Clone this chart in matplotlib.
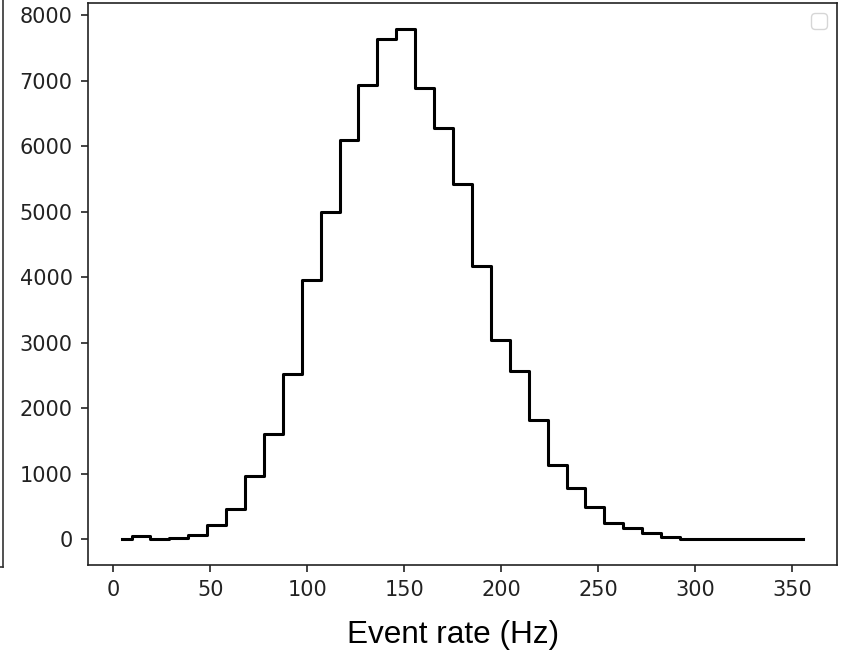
import matplotlib.pyplot as plt
from matplotlib.lines import Line2D

plt.rcParams['font.family'] = 'DejaVu Sans'

# Histogram of event rates (bin centres in Hz, counts)
rate_centres = [4.5, 14.25, 24.0, 33.75, 43.5, 53.25, 63.0, 72.75, 82.5, 92.25,
                102.0, 111.75, 121.5, 131.25, 141.0, 150.75, 160.5, 170.25, 180.0,
                189.75, 199.5, 209.25, 219.0, 228.75, 238.5, 248.25, 258.0, 267.75,
                277.5, 287.25, 297.0, 306.75, 316.5, 326.25, 336.0, 345.75, 355.5]
counts = [0, 46, 0, 26, 61, 220, 466, 962, 1610, 2521,
          3963, 5000, 6100, 6933, 7633, 7797, 6893, 6279, 5425,
          4167, 3043, 2572, 1821, 1141, 782, 491, 256, 179,
          103, 37, 8, 6, 2, 1, 0, 0, 0]

x_ticks = [0, 50, 100, 150, 200, 250, 300, 350]
y_ticks = [0, 1000, 2000, 3000, 4000, 5000, 6000, 7000, 8000]

W, H = 841, 651
fig = plt.figure(figsize=(W / 100, H / 100), dpi=100)
ax = fig.add_axes([88 / W, 1 - 565 / H, 749 / W, 562 / H])

ax.step(rate_centres, counts, where='mid', color='black', lw=2.2)

ax.set_xticks(x_ticks)
ax.set_yticks(y_ticks)
ax.tick_params(labelsize=15, length=5, width=1.2, pad=6, colors='#222222')
for s in ax.spines.values():
    s.set_linewidth(1.2)
    s.set_color('#222222')

# empty legend box, as in the original
ax.legend(handles=[], loc='upper right', fontsize=14.5)

ax.set_xlabel("Event rate (Hz)", family='Liberation Sans', fontsize=22.7)
ax.xaxis.label.set_va('baseline')
ax.xaxis.set_label_coords((453 - 88) / 749, (565 - 643.3) / 562)

# edge of the neighbouring panel that was cut off on the left
fig.add_artist(Line2D([3 / W, 3 / W], [1.0, 1 - 567 / H], transform=fig.transFigure,
                      color='#333333', lw=1.2))
fig.add_artist(Line2D([0, 3 / W], [1 - 567 / H, 1 - 567 / H], transform=fig.transFigure,
                      color='#333333', lw=1.2))

fig.savefig("out.png", dpi=100)
